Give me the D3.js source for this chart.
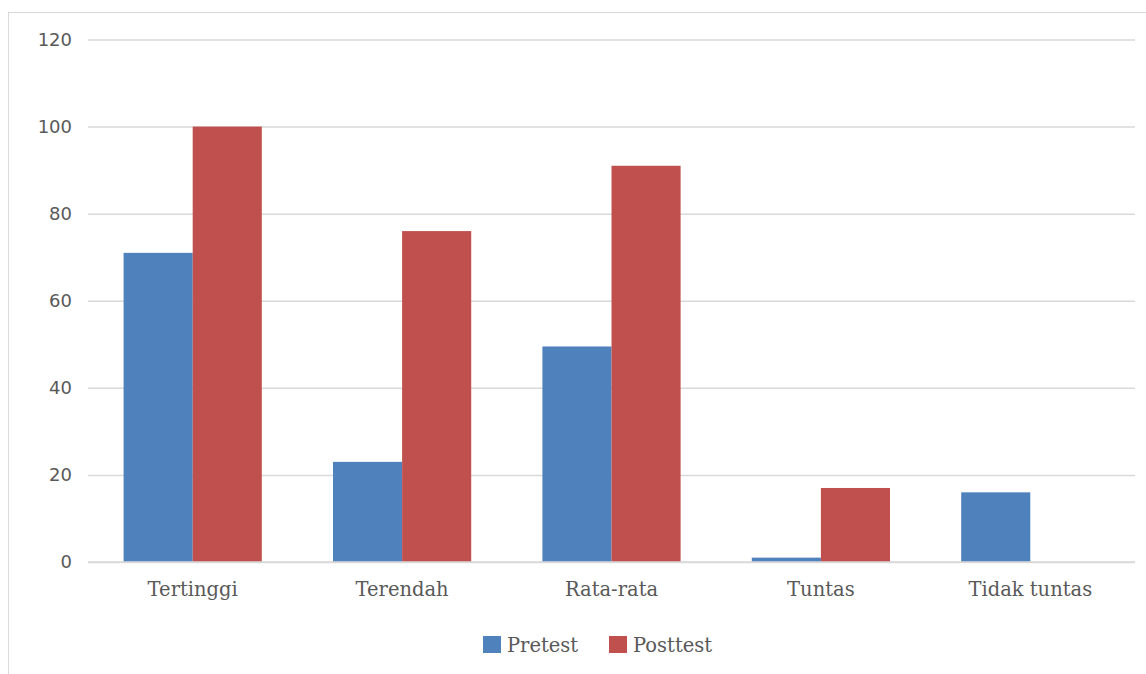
<!DOCTYPE html>
<html>
<head>
<meta charset="utf-8">
<script src="https://cdn.jsdelivr.net/npm/d3@7"></script>
<style>
  body { margin: 0; background: #fff; }
</style>
</head>
<body>
<div id="main"></div>
<script>
var categories = ['Tertinggi', 'Terendah', 'Rata-rata', 'Tuntas', 'Tidak tuntas']
var seriesNames = ['Pretest', 'Posttest']
var pretest = [71, 23, 49.5, 1, 16]
var posttest = [100, 76, 91, 17, 0]
var yTicks = [0, 20, 40, 60, 80, 100, 120]
var colors = ['#4f81bd', '#c0504d']

var width = 1146
var height = 674
var margin = { left: 88, right: 11, top: 39.5, bottom: 112 }

var svg = d3.select('#main')
  .append('svg')
  .attr('width', width)
  .attr('height', height)

// chart area frame
svg.append('rect')
  .attr('x', 8.5)
  .attr('y', 12.5)
  .attr('width', width)
  .attr('height', height)
  .attr('fill', 'none')
  .attr('stroke', '#d9d9d9')

var x = d3.scaleBand()
  .domain(categories)
  .range([margin.left, width - margin.right])
  .paddingInner(0.34)
  .paddingOuter(0.17)

var x1 = d3.scaleBand()
  .domain(seriesNames)
  .range([0, x.bandwidth()])

var y = d3.scaleLinear()
  .domain([0, 120])
  .range([height - margin.bottom, margin.top])

var yAxis = svg.append('g')
  .attr('transform', `translate(${margin.left}, 0)`)
  .call(d3.axisLeft(y).tickValues(yTicks).tickSize(-(width - margin.right - margin.left)).tickPadding(16))

yAxis.select('.domain').remove()
yAxis.selectAll('.tick line')
  .attr('stroke', '#d9d9d9')
  .attr('stroke-width', 1.5)
yAxis.selectAll('.tick text')
  .attr('fill', '#595959')
  .style('font-family', 'DejaVu Sans, sans-serif')
  .style('font-size', '18px')

var rows = categories.map((c, i) => ({ cat: c, values: [pretest[i], posttest[i]] }))

var groups = svg.selectAll('g.cat')
  .data(rows)
  .enter()
  .append('g')
  .attr('class', 'cat')
  .attr('transform', d => `translate(${x(d.cat)}, 0)`)

groups.selectAll('rect')
  .data(d => d.values.map((v, j) => ({ name: seriesNames[j], value: v, j: j })))
  .enter()
  .append('rect')
  .attr('x', d => x1(d.name))
  .attr('y', d => y(d.value))
  .attr('width', x1.bandwidth())
  .attr('height', d => y(0) - y(d.value))
  .attr('fill', d => colors[d.j])

// baseline
svg.append('line')
  .attr('x1', margin.left)
  .attr('x2', width - margin.right)
  .attr('y1', y(0))
  .attr('y2', y(0))
  .attr('stroke', '#d9d9d9')
  .attr('stroke-width', 1.5)

var xAxis = svg.append('g')
  .attr('transform', `translate(0, ${y(0)})`)
  .call(d3.axisBottom(x).tickSize(0).tickPadding(20))

xAxis.select('.domain').remove()
xAxis.selectAll('.tick text')
  .attr('fill', '#595959')
  .style('font-family', 'DejaVu Serif, serif')
  .style('font-size', '19.5px')

// legend
var legend = svg.append('g')
  .attr('transform', 'translate(483, 636)')

var legendItems = legend.selectAll('g')
  .data(seriesNames)
  .enter()
  .append('g')
  .attr('transform', (_, i) => `translate(${i * 126}, 0)`)

legendItems.append('rect')
  .attr('width', 18)
  .attr('height', 17)
  .attr('fill', (_, i) => colors[i])

legendItems.append('text')
  .text(d => d)
  .attr('x', 24)
  .attr('y', 16)
  .attr('fill', '#595959')
  .style('font-family', 'DejaVu Serif, serif')
  .style('font-size', '19.5px')
</script>
</body>
</html>
